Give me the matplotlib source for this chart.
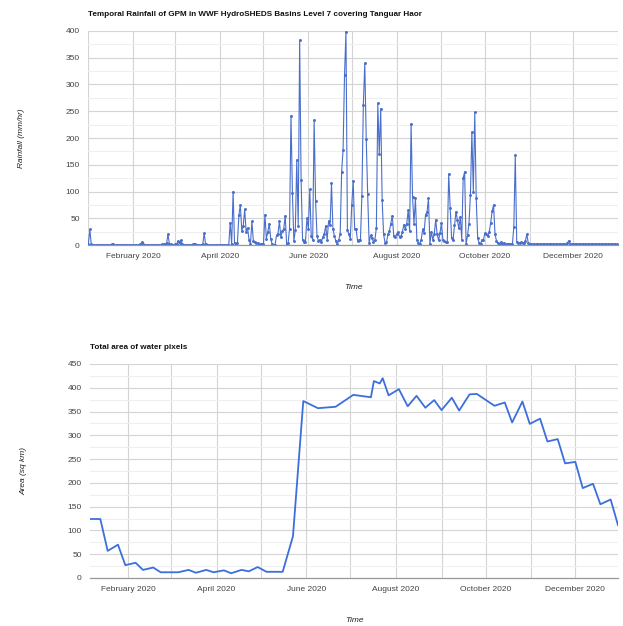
import numpy as np
import matplotlib.pyplot as plt
import matplotlib.dates as mdates
from matplotlib.ticker import MultipleLocator

plt.rcParams['font.family'] = ['Liberation Sans', 'DejaVu Sans']

# daily GPM rainfall (mm/hr), one list per month of 2020
rain_jan = [2, 29, 1, 0, 0, 0, 0, 0, 0, 0, 0, 0, 0, 0, 0, 0, 1, 2, 0, 0,
            0, 0, 0, 0, 0, 0, 0, 0, 0, 0, 0]
rain_feb = [0, 0, 0, 0, 0, 1, 5, 1, 0, 0, 0, 0, 0, 0, 0, 0, 0, 0, 0, 0,
            1, 1, 2, 3, 20, 2, 1, 0, 0]
rain_mar = [1, 2, 7, 3, 9, 1, 0, 0, 0, 0, 0, 0, 1, 2, 1, 0, 0, 0, 0, 1,
            22, 1, 0, 0, 0, 0, 0, 0, 0, 0, 0]
rain_apr = [0, 0, 0, 0, 0, 0, 0, 42, 1, 100, 3, 2, 4, 56, 75, 27, 35, 67, 25, 32,
            10, 2, 44, 8, 6, 4, 3, 2, 1, 2]
rain_may = [2, 57, 12, 25, 40, 12, 1, 0, 0, 18, 21, 44, 15, 26, 30, 55, 1, 3, 30, 242,
            97, 7, 28, 159, 36, 383, 121, 10, 6, 5, 50]
rain_jun = [30, 104, 17, 10, 234, 82, 17, 7, 10, 5, 15, 20, 36, 10, 45, 37, 115, 30, 17, 8,
            1, 10, 20, 137, 178, 318, 399, 28, 20, 12]
rain_jul = [75, 120, 30, 30, 8, 10, 10, 92, 262, 340, 199, 95, 4, 18, 13, 6, 10, 32, 265, 170,
            255, 84, 20, 4, 5, 20, 26, 40, 55, 17, 15]
rain_aug = [20, 24, 15, 16, 25, 38, 30, 40, 65, 26, 227, 90, 40, 87, 10, 4, 2, 10, 29, 23,
            57, 61, 87, 2, 25, 10, 20, 47, 20, 9, 23]
rain_sep = [41, 10, 7, 5, 5, 133, 70, 13, 10, 37, 62, 47, 31, 53, 10, 125, 137, 1, 18, 40,
            93, 211, 100, 248, 88, 14, 3, 2, 10, 10]
rain_oct = [22, 20, 17, 24, 42, 63, 75, 20, 8, 4, 2, 5, 1, 4, 2, 1, 1, 2, 2, 1,
            34, 168, 5, 4, 3, 5, 4, 3, 8, 20, 3]
rain_nov = [1, 1, 1, 1, 1, 1, 1, 1, 1, 1, 1, 1, 1, 1, 1, 1, 1, 1, 1, 1,
            1, 1, 1, 1, 1, 1, 4, 8, 1, 1]
rain_dec = [1, 1, 1, 1, 1, 1, 1, 1, 1, 1, 1, 1, 1, 1, 1, 1, 1, 1, 1, 1,
            1, 1, 1, 1, 1, 1, 1, 1, 1, 1, 1]

# water area (sq km) per image date
area_dates = ['2020-01-06', '2020-01-13', '2020-01-18', '2020-01-25', '2020-01-30',
              '2020-02-06', '2020-02-11', '2020-02-18', '2020-02-23', '2020-02-29',
              '2020-03-06', '2020-03-13', '2020-03-18', '2020-03-25', '2020-03-30',
              '2020-04-06', '2020-04-11', '2020-04-18', '2020-04-23', '2020-04-29',
              '2020-05-05', '2020-05-11', '2020-05-16', '2020-05-23', '2020-05-30',
              '2020-06-09', '2020-06-21', '2020-07-03', '2020-07-15', '2020-07-17',
              '2020-07-21', '2020-07-23', '2020-07-27', '2020-08-03', '2020-08-09',
              '2020-08-15', '2020-08-21', '2020-08-27', '2020-09-01', '2020-09-08',
              '2020-09-13', '2020-09-20', '2020-09-25', '2020-10-07', '2020-10-14',
              '2020-10-19', '2020-10-26', '2020-10-31', '2020-11-07', '2020-11-12',
              '2020-11-19', '2020-11-24', '2020-12-01', '2020-12-06', '2020-12-13',
              '2020-12-18', '2020-12-25', '2020-12-30']
area_values = [124, 124, 57, 70, 27, 32, 17, 22, 12, 12,
               12, 17, 11, 17, 12, 16, 10, 17, 14, 23,
               13, 13, 13, 88, 372, 357, 360, 385, 380, 414,
               409, 420, 384, 397, 361, 383, 358, 374, 353, 379,
               352, 386, 387, 362, 369, 327, 371, 324, 335, 287,
               292, 241, 244, 189, 198, 155, 165, 111]

rain = np.array(rain_jan + rain_feb + rain_mar + rain_apr + rain_may + rain_jun +
                rain_jul + rain_aug + rain_sep + rain_oct + rain_nov + rain_dec)
rain_days = np.arange('2020-01-01', '2021-01-01', dtype='datetime64[D]')
area_days = np.array(area_dates, dtype='datetime64[D]')


def style(ax, ymax, title, ylabel):
    ax.set_ylim(0, ymax)
    ax.yaxis.set_major_locator(MultipleLocator(50))
    ax.yaxis.set_minor_locator(MultipleLocator(25))
    ax.xaxis.set_major_locator(mdates.MonthLocator(bymonth=[2, 4, 6, 8, 10, 12]))
    ax.xaxis.set_minor_locator(mdates.MonthLocator())
    ax.xaxis.set_major_formatter(mdates.DateFormatter('%B %Y'))
    ax.grid(True, which='major', axis='y', color='#d4d4d4', lw=0.8)
    ax.grid(True, which='minor', axis='y', color='#efefef', lw=0.8)
    ax.grid(True, which='both', axis='x', color='#d4d4d4', lw=0.8)
    ax.set_axisbelow(True)
    for s in ['top', 'right', 'left']:
        ax.spines[s].set_visible(False)
    ax.spines['bottom'].set_color('#999999')
    ax.spines['bottom'].set_linewidth(0.9)
    ax.tick_params(which='both', length=0, labelsize=6, colors='#444444', pad=6)
    ax.set_title(title, loc='left', fontsize=5.9, fontweight='bold', color='#111111', pad=11)
    ax.set_ylabel(ylabel, fontsize=6, style='italic', color='#222222', labelpad=29)
    ax.set_xlabel('Time', fontsize=6, style='italic', color='#222222', labelpad=17)


fig = plt.figure(figsize=(6.23, 6.26), dpi=100)

ax1 = fig.add_axes([0.1413, 0.6086, 0.8507, 0.3419])
ax1.plot(rain_days, rain, color='#4a6fcb', lw=0.8, marker='o', ms=1.1)
ax1.set_xlim(np.datetime64('2020-01-01') - np.timedelta64(6, 'h'), np.datetime64('2021-01-01'))
style(ax1, 400, 'Temporal Rainfall of GPM in WWF HydroSHEDS Basins Level 7 covering Tanguar Haor',
      'Rainfall (mm/hr)')

ax2 = fig.add_axes([0.1445, 0.0767, 0.8475, 0.3419])
ax2.plot(area_days, area_values, color='#3c6fdc', lw=1.3)
ax2.set_xlim(area_days[0], area_days[-1])
style(ax2, 450, 'Total area of water pixels', 'Area (sq km)')

fig.savefig('out.png', dpi=100)
